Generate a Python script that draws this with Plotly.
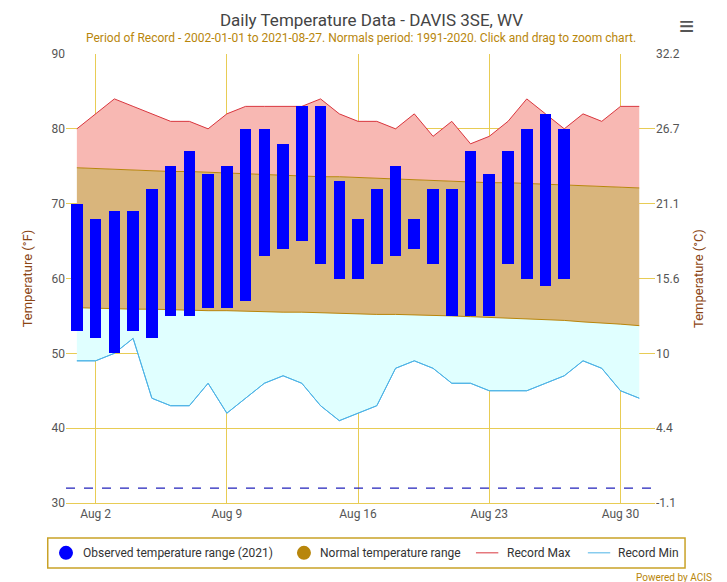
import plotly.graph_objects as go

days = list(range(1, 32))
obs_days = list(range(1, 28))
obs_max = [70,68,69,69,72,75,77,74,75,80,80,78,83,83,73,68,72,75,68,72,72,77,74,77,80,82,80]
obs_min = [53,52,50,53,52,55,55,56,56,57,63,64,65,62,60,60,62,63,64,62,55,55,55,62,60,59,60]
rec_max = [80,82,84,83,82,81,81,80,82,83,83,83,83,84,82,81,81,80,82,79,81,78,79,81,84,82,80,82,81,83,83]
rec_min = [49,49,50,52,44,43,43,46,42,44,46,47,46,43,41,42,43,48,49,48,46,46,45,45,45,46,47,49,48,45,44]
norm_max = [74.8,74.7,74.6,74.5,74.4,74.3,74.3,74.2,74.1,74.0,73.9,73.8,73.7,73.6,73.6,73.5,73.4,73.3,73.2,73.1,73.0,72.9,72.8,72.8,72.7,72.6,72.5,72.4,72.3,72.2,72.1]
norm_min = [56.1,56.0,56.0,55.9,55.9,55.8,55.8,55.7,55.7,55.6,55.6,55.5,55.5,55.4,55.4,55.3,55.2,55.2,55.1,55.0,55.0,54.9,54.8,54.7,54.6,54.5,54.4,54.2,54.1,53.9,53.7]
tick_days = [2, 9, 16, 23, 30]
tick_labels = ["Aug 2", "Aug 9", "Aug 16", "Aug 23", "Aug 30"]
f_ticks = [30, 40, 50, 60, 70, 80, 90]
c_labels = ["-1.1", "4.4", "10", "15.6", "21.1", "26.7", "32.2"]
legend_names = ["Observed temperature range (2021)", "Normal temperature range", "Record Max", "Record Min"]
XR = [0.42, 31.84]
YR = [30, 90]

C_OBS, C_NORM, C_RMAX, C_RMIN = "#0000ff", "#b8860b", "#d9363e", "#4db3e6"

fig = go.Figure()
fig.add_trace(go.Scatter(x=days, y=rec_min, mode="lines", line=dict(color=C_RMIN, width=1), showlegend=False, hoverinfo="skip"))
fig.add_trace(go.Scatter(x=days, y=norm_min, mode="lines", line=dict(color=C_NORM, width=1), fill="tonexty", fillcolor="#e0ffff", showlegend=False, hoverinfo="skip"))
fig.add_trace(go.Scatter(x=days, y=norm_max, mode="lines", line=dict(color=C_NORM, width=1), fill="tonexty", fillcolor="#d9b57c", showlegend=False, hoverinfo="skip"))
fig.add_trace(go.Scatter(x=days, y=rec_max, mode="lines", line=dict(color=C_RMAX, width=1), fill="tonexty", fillcolor="#f8b8b3", showlegend=False, hoverinfo="skip"))
fig.add_trace(go.Scatter(x=days, y=rec_min, mode="lines", line=dict(color=C_RMIN, width=1), showlegend=False, hoverinfo="skip"))
fig.add_trace(go.Scatter(x=XR, y=[32, 32], mode="lines", line=dict(color="#2222bb", width=1.2, dash="dash"), showlegend=False, hoverinfo="skip"))
fig.add_trace(go.Scatter(x=[None], y=[None], yaxis="y2", showlegend=False))
fig.add_trace(go.Bar(x=obs_days, y=[a - b for a, b in zip(obs_max, obs_min)], base=obs_min, width=0.62,
                     marker=dict(color=C_OBS, line=dict(width=0)), showlegend=False, xaxis="x2", yaxis="y3"))

LY = -0.111
shapes = [
    dict(type="rect", xref="paper", yref="paper", x0=-0.031, x1=1.051, y0=-0.078, y1=-0.145,
         line=dict(color="#c9a227", width=1.5), fillcolor="rgba(0,0,0,0)", layer="above"),
    dict(type="circle", xref="paper", yref="paper", xsizemode="pixel", ysizemode="pixel", xanchor=0.0, yanchor=LY,
         x0=-7, x1=7, y0=-7, y1=7, fillcolor=C_OBS, line=dict(width=0)),
    dict(type="circle", xref="paper", yref="paper", xsizemode="pixel", ysizemode="pixel", xanchor=0.404, yanchor=LY,
         x0=-7, x1=7, y0=-7, y1=7, fillcolor=C_NORM, line=dict(width=0)),
    dict(type="line", xref="paper", yref="paper", x0=0.696, x1=0.734, y0=LY, y1=LY, line=dict(color=C_RMAX, width=1)),
    dict(type="line", xref="paper", yref="paper", x0=0.886, x1=0.924, y0=LY, y1=LY, line=dict(color=C_RMIN, width=1)),
]
leg_x = [0.025, 0.428, 0.745, 0.934]
annotations = [dict(text=t, xref="paper", yref="paper", x=x, y=LY, xanchor="left", yanchor="middle", showarrow=False,
                    font=dict(size=12, color="#333333")) for t, x in zip(legend_names, leg_x)]
annotations += [
    dict(text="Period of Record - 2002-01-01 to 2021-08-27. Normals period: 1991-2020. Click and drag to zoom chart.",
         xref="paper", yref="paper", x=0.5, y=1.015, xanchor="center", yanchor="bottom", showarrow=False,
         font=dict(size=12, color="#b8860b")),
    dict(text="Powered by ACIS", xref="paper", yref="paper", x=1.1, y=-0.167, xanchor="right", yanchor="middle", showarrow=False,
         font=dict(size=10, color="#b8860b")),
    dict(text="≡", xref="paper", yref="paper", x=1.07, y=1.1, xanchor="right", showarrow=False, font=dict(size=26, color="#555555")),
]

grid = "#e8cc55"
fig.update_layout(
    width=727, height=582, plot_bgcolor="white", paper_bgcolor="white",
    margin=dict(l=58, r=80, t=46, b=87),
    font=dict(family="Roboto, sans-serif", color="#555555"),
    showlegend=False, bargap=0,
    title=dict(text="Daily Temperature Data - DAVIS 3SE, WV", x=0.5, y=0.99, yanchor="top", xanchor="center", font=dict(size=17, color="#444444")),
    xaxis=dict(range=XR, tickvals=tick_days, ticktext=tick_labels, showgrid=True, gridcolor=grid, gridwidth=1,
               zeroline=False, showline=True, linecolor=grid, tickfont=dict(size=12, color="#555555")),
    xaxis2=dict(range=XR, overlaying="x", visible=False),
    yaxis=dict(range=YR, tickvals=f_ticks, showgrid=True, gridcolor=grid, zeroline=False,
               title=dict(text="Temperature (°F)", font=dict(size=13, color="#8b4513")), tickfont=dict(size=12, color="#555555")),
    yaxis2=dict(range=YR, overlaying="y", side="right", tickvals=f_ticks, ticktext=c_labels, showgrid=False, zeroline=False,
                title=dict(text="Temperature (°C)", font=dict(size=13, color="#8b4513")), tickfont=dict(size=12, color="#555555")),
    yaxis3=dict(range=YR, overlaying="y", visible=False),
    shapes=shapes, annotations=annotations,
)
fig.write_html("out.html", config={"displayModeBar": False})
